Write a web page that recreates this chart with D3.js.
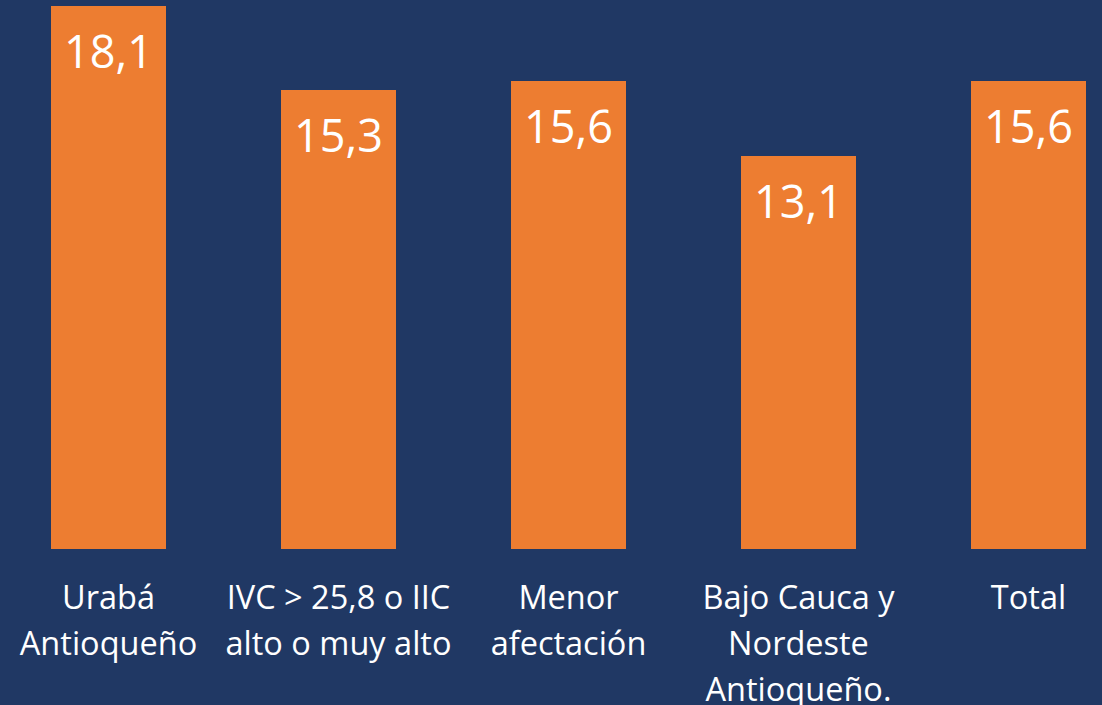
<!DOCTYPE html>
<html>
<head>
<meta charset="utf-8">
<script src="https://cdn.jsdelivr.net/npm/d3@7"></script>
<style>
  body { margin: 0; background: #203864; overflow: hidden; }
  svg { display: block; }
</style>
</head>
<body>
<script>
var width = 1102, height = 705;

// data
var categories = [
  ["Urabá", "Antioqueño"],
  ["IVC > 25,8 o IIC", "alto o muy alto"],
  ["Menor", "afectación"],
  ["Bajo Cauca y", "Nordeste", "Antioqueño."],
  ["Total"]
];
var values = [18.1, 15.3, 15.6, 13.1, 15.6];
var valueLabels = ["18,1", "15,3", "15,6", "13,1", "15,6"];

var barColor = "#ED7D31";
var textColor = "#ffffff";
var fontFam = "'Open Sans', 'Noto Sans', sans-serif";

var svg = d3.select("body")
  .append("svg")
  .attr("width", width)
  .attr("height", height);

svg.append("rect")
  .attr("width", width)
  .attr("height", height)
  .attr("fill", "#203864");

var x = d3.scaleBand()
  .domain(d3.range(values.length))
  .range([-6.5, 1143.5])
  .paddingInner(0.5)
  .paddingOuter(0.25);

var y = d3.scaleLinear()
  .domain([0, 18.3])
  .range([549, 0]);

svg.selectAll(".bar")
  .data(values)
  .enter().append("rect")
  .attr("class", "bar")
  .attr("x", function(d, i){ return x(i); })
  .attr("y", function(d){ return y(d); })
  .attr("width", x.bandwidth())
  .attr("height", function(d){ return y(0) - y(d); })
  .attr("fill", barColor);

// value labels inside the bar tops
svg.selectAll(".val")
  .data(values)
  .enter().append("text")
  .attr("class", "val")
  .attr("x", function(d, i){ return x(i) + x.bandwidth() / 2; })
  .attr("y", function(d){ return y(d) + 62; })
  .attr("text-anchor", "middle")
  .attr("fill", textColor)
  .style("font-family", fontFam)
  .style("font-size", "45px")
  .text(function(d, i){ return valueLabels[i]; });

// category labels, one tspan per line
var cat = svg.selectAll(".cat")
  .data(categories)
  .enter().append("text")
  .attr("class", "cat")
  .attr("x", function(d, i){ return x(i) + x.bandwidth() / 2; })
  .attr("y", 609)
  .attr("text-anchor", "middle")
  .attr("fill", textColor)
  .style("font-family", fontFam)
  .style("font-size", "32.5px");

cat.selectAll("tspan")
  .data(function(d){ return d; })
  .enter().append("tspan")
  .attr("x", function(){ return d3.select(this.parentNode).attr("x"); })
  .attr("dy", function(d, j){ return j === 0 ? 0 : 46; })
  .text(function(d){ return d; });
</script>
</body>
</html>
